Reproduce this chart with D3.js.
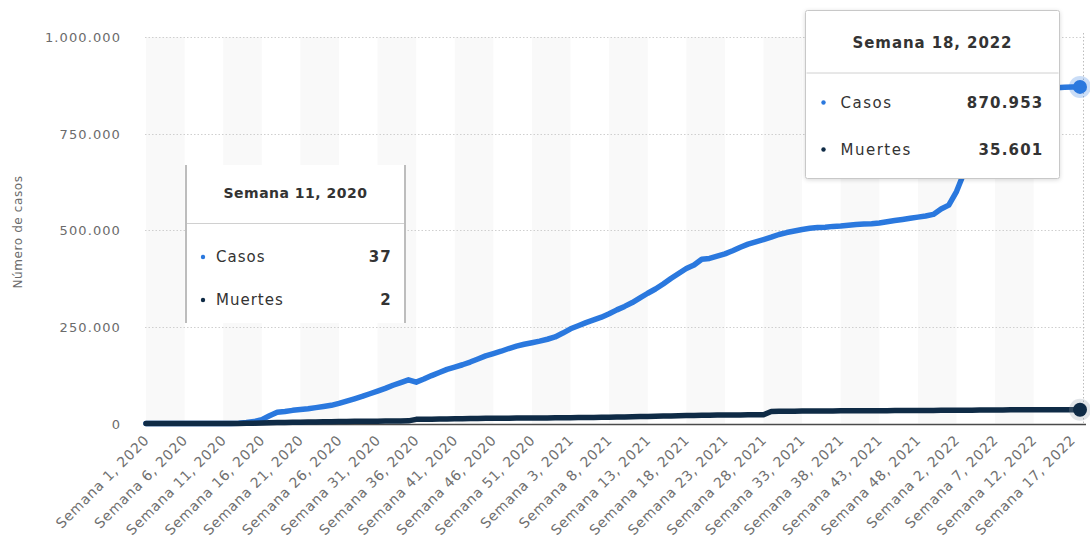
<!DOCTYPE html>
<html>
<head>
<meta charset="utf-8">
<script src="https://cdn.jsdelivr.net/npm/d3@7"></script>
<style>
  body { margin: 0; background: #fff; }
  text { font-family: 'DejaVu Sans', Verdana, sans-serif; }
</style>
</head>
<body>
<div id="canvas"></div>
<script>
// semanas: año y rango de semanas que aparecen en el eje
const years = [2020, 2021, 2022]
const weekRanges = [[1, 53], [1, 52], [2, 18]]

// casos acumulados
const casos = [
  0, 0, 0, 0, 0, 0, 0, 0, 0, 0,
  37, 200, 800, 2500, 5000, 10000, 20000, 29000, 31000, 34000,
  36000, 38000, 41000, 44000, 47000, 52000, 58000, 64000, 70000, 77000,
  84000, 91000, 99000, 106000, 113000, 107000, 115000, 124000, 132000, 140000,
  146000, 152000, 159000, 167000, 175000, 181000, 187000, 194000, 200000, 205000,
  209000, 213000, 218000, 224000, 234000, 245000, 253000, 261000, 268000, 275000,
  284000, 294000, 303000, 313000, 325000, 337000, 348000, 361000, 375000, 388000,
  401000, 410000, 425000, 427000, 433000, 439000, 447000, 456000, 464000, 470000,
  476000, 482000, 489000, 494000, 498000, 502000, 505000, 507000, 508000, 510000,
  511000, 513000, 515000, 516000, 517000, 519000, 522000, 525000, 528000, 531000,
  534000, 537000, 541000, 555000, 565000, 600000, 650000, 710000, 760000, 800000,
  825000, 840000, 850000, 857000, 862000, 865000, 867000, 868000, 869000, 870000,
  870500, 870953
]

// muertes acumuladas
const muertes = [
  0, 0, 0, 0, 0, 0, 0, 0, 0, 0,
  2, 10, 100, 400, 900, 1500, 1900, 2300, 2800, 3200,
  3500, 3800, 4100, 4400, 4700, 5000, 5300, 5500, 5700, 5900,
  6100, 6300, 6500, 6700, 6800, 10700, 11000, 11300, 11600, 11900,
  12200, 12500, 12800, 13100, 13300, 13500, 13700, 13900, 14000, 14200,
  14300, 14400, 14500, 14700, 14900, 15100, 15300, 15500, 15700, 16000,
  16300, 16600, 17000, 17400, 17800, 18300, 18800, 19300, 19700, 20100,
  20500, 20900, 21200, 21500, 21700, 21900, 22100, 22300, 22400, 22500,
  22600, 31200, 31500, 31700, 31900, 32100, 32300, 32400, 32500, 32600,
  32700, 32800, 32900, 33000, 33100, 33200, 33300, 33400, 33500, 33600,
  33700, 33800, 33900, 34000, 34100, 34200, 34300, 34500, 34700, 34900,
  35100, 35200, 35300, 35400, 35450, 35500, 35530, 35550, 35570, 35580,
  35590, 35601
]

const yTicks = [0, 250000, 500000, 750000, 1000000]
const seriesNames = ['Casos', 'Muertes']
const seriesColors = ['#2a78de', '#0f2b46']

const categories = []
years.forEach((yr, k) => {
  for (let w = weekRanges[k][0]; w <= weekRanges[k][1]; w++) categories.push(`Semana ${w}, ${yr}`)
})

const width = 1090
const height = 548
const plotLeft = 146
const plotRight = 1080
const plotTop = 37
const plotBottom = 423.5

const locale = d3.formatLocale({ decimal: ',', thousands: '.', grouping: [3], currency: ['', ''] })
const fmt = locale.format(',d')

const svg = d3.select('#canvas').append('svg')
  .attr('width', width)
  .attr('height', height)

const x = d3.scalePoint().domain(categories).range([plotLeft, plotRight])
const step = x.step()
const y = d3.scaleLinear().domain([0, 1000000]).range([plotBottom, plotTop])

// bandas alternas cada 5 semanas
const bands = categories.filter((c, i) => i % 10 === 0 && i + 5 < categories.length)
svg.append('g').selectAll('rect').data(bands).enter().append('rect')
  .attr('x', (d) => x(d))
  .attr('y', plotTop)
  .attr('width', step * 5)
  .attr('height', plotBottom - plotTop)
  .attr('fill', '#f9f9f9')

// grid horizontal
svg.append('g').selectAll('line').data(yTicks.slice(1)).enter().append('line')
  .attr('x1', plotLeft - 1)
  .attr('x2', 1086)
  .attr('y1', (d) => Math.round(y(d)) + 0.5)
  .attr('y2', (d) => Math.round(y(d)) + 0.5)
  .attr('stroke', '#cfcfcf')
  .attr('stroke-dasharray', '1.5,2')

// eje y
svg.append('g').selectAll('text').data(yTicks).enter().append('text')
  .attr('x', 121)
  .attr('y', (d) => y(d) + 5)
  .attr('text-anchor', 'end')
  .attr('font-size', 13)
  .attr('letter-spacing', 1.1)
  .attr('fill', '#6b6b6b')
  .text((d) => fmt(d))

svg.append('text')
  .attr('transform', 'translate(22,232) rotate(-90)')
  .attr('text-anchor', 'middle')
  .attr('font-size', 12)
  .attr('letter-spacing', 0.6)
  .attr('fill', '#6b6b6b')
  .text('Número de casos')

// eje x
svg.append('line')
  .attr('x1', plotLeft - 1).attr('x2', 1086)
  .attr('y1', 424.5).attr('y2', 424.5)
  .attr('stroke', '#4a4a4a')
  .attr('stroke-width', 1.5)

const xLabels = categories.filter((c, i) => i % 5 === 0)
svg.append('g').selectAll('text').data(xLabels).enter().append('text')
  .attr('transform', (d) => `translate(${x(d) + 4},${441}) rotate(-45)`)
  .attr('text-anchor', 'end')
  .attr('font-size', 14)
  .attr('letter-spacing', 0.7)
  .attr('fill', '#707070')
  .text((d) => d)

// crosshair punteado
svg.append('line')
  .attr('x1', 1083.5).attr('x2', 1083.5)
  .attr('y1', plotTop - 4).attr('y2', plotBottom)
  .attr('stroke', '#bdbdbd')
  .attr('stroke-dasharray', '1.5,2')

// lineas
const line = d3.line()
  .x((d, i) => x(categories[i]))
  .y((d) => y(d))

const series = [casos, muertes]
series.forEach((s, k) => {
  svg.append('path')
    .datum(s)
    .attr('d', line)
    .attr('fill', 'none')
    .attr('stroke', seriesColors[k])
    .attr('stroke-width', 5.5)
    .attr('stroke-linejoin', 'round')
    .attr('stroke-linecap', 'round')
})

// marcadores en la última semana
const last = categories.length - 1
series.forEach((s, k) => {
  svg.append('circle')
    .attr('cx', x(categories[last]))
    .attr('cy', y(s[last]))
    .attr('r', 11)
    .attr('fill', k === 0 ? seriesColors[0] : '#8a96a3')
    .attr('opacity', 0.25)
  svg.append('circle')
    .attr('cx', x(categories[last]))
    .attr('cy', y(s[last]))
    .attr('r', 7)
    .attr('fill', seriesColors[k])
})

// tooltips
function tooltip(idx, bx, by, bw, bh, full) {
  const g = svg.append('g')
  g.append('rect')
    .attr('x', bx).attr('y', by)
    .attr('width', bw).attr('height', bh)
    .attr('fill', '#fff')
    .attr('stroke', full ? '#c8c8c8' : 'none')
    .attr('rx', full ? 2 : 0)
    .style('filter', full ? 'drop-shadow(0 1px 2px rgba(0,0,0,0.15))' : null)
  if (!full) {
    g.append('line').attr('x1', bx).attr('x2', bx).attr('y1', by).attr('y2', by + bh)
      .attr('stroke', '#bdbdbd').attr('stroke-width', 2)
    g.append('line').attr('x1', bx + bw).attr('x2', bx + bw).attr('y1', by).attr('y2', by + bh)
      .attr('stroke', '#bdbdbd').attr('stroke-width', 2)
  }
  const head = full ? 62 : 58
  g.append('text')
    .attr('x', bx + bw / 2)
    .attr('y', by + (full ? 37 : 33))
    .attr('text-anchor', 'middle')
    .attr('font-size', full ? 15 : 14)
    .attr('font-weight', 'bold')
    .attr('letter-spacing', full ? 0.9 : 0.5)
    .attr('fill', '#333')
    .text(categories[idx])
  g.append('line')
    .attr('x1', bx + 1).attr('x2', bx + bw - 1)
    .attr('y1', by + head + 0.5).attr('y2', by + head + 0.5)
    .attr('stroke', '#d0d0d0')
  const rowY = full ? [97, 144] : [97, 140]
  series.forEach((s, k) => {
    g.append('circle')
      .attr('cx', bx + (full ? 18 : 17))
      .attr('cy', by + rowY[k] - 5)
      .attr('r', 2.2)
      .attr('fill', seriesColors[k])
    g.append('text')
      .attr('x', bx + (full ? 35 : 30))
      .attr('y', by + rowY[k])
      .attr('font-size', 15)
      .attr('letter-spacing', full ? 1.5 : 1)
      .attr('fill', '#333')
      .text(seriesNames[k])
    g.append('text')
      .attr('x', bx + bw - (full ? 16 : 13))
      .attr('y', by + rowY[k])
      .attr('text-anchor', 'end')
      .attr('font-size', 15)
      .attr('font-weight', 'bold')
      .attr('letter-spacing', 1.2)
      .attr('fill', '#333')
      .text(fmt(s[idx]))
  })
}

tooltip(10, 186, 165, 219, 158, false)
tooltip(last, 805.5, 10.5, 254, 168, true)
</script>
</body>
</html>
